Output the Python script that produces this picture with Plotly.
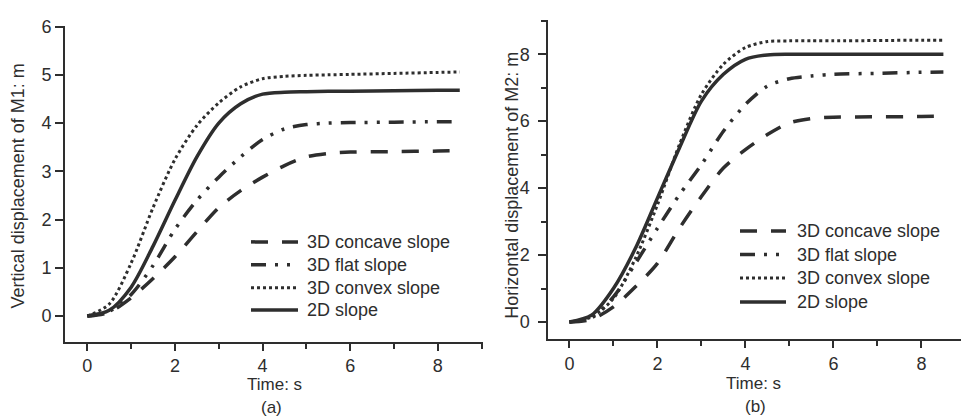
import plotly.graph_objects as go

# ---- data ----
time_s = [0, 0.5, 1, 1.5, 2, 2.5, 3, 3.5, 4, 4.5, 5, 5.5, 6, 7, 8, 8.5]

a_concave = [0, 0.08, 0.38, 0.78, 1.23, 1.75, 2.25, 2.6, 2.88, 3.12, 3.3, 3.37, 3.4, 3.41, 3.42, 3.43]
a_flat    = [0, 0.1, 0.45, 1.05, 1.8, 2.4, 2.88, 3.3, 3.66, 3.88, 3.97, 4.0, 4.01, 4.02, 4.03, 4.03]
a_convex  = [0, 0.25, 1.1, 2.25, 3.25, 3.95, 4.42, 4.75, 4.92, 4.97, 4.99, 5.0, 5.01, 5.03, 5.05, 5.06]
a_2d      = [0, 0.12, 0.6, 1.45, 2.4, 3.3, 4.0, 4.4, 4.6, 4.64, 4.65, 4.66, 4.66, 4.67, 4.68, 4.68]

b_concave = [0, 0.08, 0.45, 1.05, 1.75, 2.8, 3.75, 4.6, 5.15, 5.6, 5.95, 6.08, 6.12, 6.13, 6.14, 6.15]
b_flat    = [0, 0.12, 0.75, 1.75, 2.8, 3.8, 4.7, 5.7, 6.5, 7.05, 7.27, 7.35, 7.4, 7.43, 7.46, 7.47]
b_convex  = [0, 0.15, 0.7, 1.9, 3.5, 5.3, 6.8, 7.7, 8.2, 8.38, 8.4, 8.4, 8.4, 8.41, 8.42, 8.42]
b_2d      = [0, 0.2, 1.0, 2.2, 3.7, 5.2, 6.6, 7.4, 7.85, 7.98, 8.0, 8.0, 8.0, 8.0, 8.0, 8.0]

series_names = ["3D concave slope", "3D flat slope", "3D convex slope", "2D slope"]
series_a = [a_concave, a_flat, a_convex, a_2d]
series_b = [b_concave, b_flat, b_convex, b_2d]

x_title = "Time: s"
ya_title = "Vertical displacement of M1: m"
yb_title = "Horizontal displacement of M2: m"
panel_labels = ["(a)", "(b)"]

# ---- styling ----
INK = "#2e2e2e"
FONT = "Liberation Sans, Arial, sans-serif"
styles = [
    dict(dash="17px,14px", width=3.5),
    dict(dash="15px,9px,3px,9px,3px,9px", width=3.5),
    dict(dash="3px,3px", width=3),
    dict(dash="solid", width=3.5),
]

W, H = 961, 418
def px(x):
    return x / W
def py(y):
    return 1 - y / H

fig = go.Figure()
for name, ys, st in zip(series_names, series_a, styles):
    fig.add_trace(go.Scatter(x=time_s, y=ys, mode="lines", name=name, showlegend=False,
                             line=dict(color=INK, shape="spline", smoothing=0.8, **st),
                             xaxis="x", yaxis="y"))
for name, ys, st in zip(series_names, series_b, styles):
    fig.add_trace(go.Scatter(x=time_s, y=ys, mode="lines", name=name, showlegend=False,
                             line=dict(color=INK, shape="spline", smoothing=0.8, **st),
                             xaxis="x2", yaxis="y2"))

# ---- legends drawn as line samples + labels (one per panel) ----
shapes = []
annotations = []
legend_specs = [
    dict(x0=251, x1=298, tx=305, rows=[238, 261.5, 285, 307.5]),
    dict(x0=740, x1=786, tx=795, rows=[227, 251, 275, 299.5]),
]
for spec in legend_specs:
    for name, st, yrow in zip(series_names, styles, spec["rows"]):
        shapes.append(dict(type="line", xref="paper", yref="paper",
                           x0=px(spec["x0"]), x1=px(spec["x1"]), y0=py(yrow), y1=py(yrow),
                           line=dict(color=INK, width=st["width"], dash=st["dash"])))
        annotations.append(dict(text=name, x=px(spec["tx"]), y=py(yrow), xref="paper", yref="paper",
                                showarrow=False, xanchor="left", yanchor="middle",
                                font=dict(family=FONT, size=18, color=INK)))

annotations += [
    dict(text=x_title, x=px(274), y=py(384), xref="paper", yref="paper",
         showarrow=False, xanchor="center", yanchor="middle", font=dict(size=17)),
    dict(text=panel_labels[0], x=px(271), y=py(407), xref="paper", yref="paper",
         showarrow=False, xanchor="center", yanchor="middle", font=dict(size=17)),
    dict(text=ya_title, x=px(18.3), y=py(181), xref="paper", yref="paper",
         showarrow=False, textangle=-90, xanchor="center", yanchor="middle"),
    dict(text=x_title, x=px(753), y=py(383), xref="paper", yref="paper",
         showarrow=False, xanchor="center", yanchor="middle", font=dict(size=17)),
    dict(text=panel_labels[1], x=px(755), y=py(406), xref="paper", yref="paper",
         showarrow=False, xanchor="center", yanchor="middle", font=dict(size=17)),
    dict(text=yb_title, x=px(511.7), y=py(180), xref="paper", yref="paper",
         showarrow=False, textangle=-90, xanchor="center", yanchor="middle"),
]

axis_common = dict(showline=True, linecolor=INK, linewidth=2, ticks="outside",
                   tickcolor=INK, tickwidth=1.5, showgrid=False, zeroline=False,
                   tickfont=dict(family=FONT, size=18, color=INK), mirror=False)
minor_ticks = dict(dtick=1, tick0=0, ticklen=5, ticks="outside", tickcolor=INK, tickwidth=1.5)

fig.update_layout(
    width=W, height=H, margin=dict(l=0, r=0, t=0, b=0),
    paper_bgcolor="white", plot_bgcolor="white",
    font=dict(family=FONT, size=18, color=INK),
    showlegend=False,
    xaxis=dict(domain=[px(65), px(483)], range=[-0.51, 9.03], dtick=2, tick0=0, ticklen=7,
               minor=minor_ticks, anchor="y", **axis_common),
    yaxis=dict(domain=[py(340), py(17)], range=[-0.53, 6.02], dtick=1, tick0=0, ticklen=8,
               anchor="x", **axis_common),
    xaxis2=dict(domain=[px(548.3), 1.0], range=[-0.48, 8.9], dtick=2, tick0=0, ticklen=7,
                minor=minor_ticks, anchor="y2", **axis_common),
    yaxis2=dict(domain=[py(337.3), py(11.7)], range=[-0.51, 9.01], dtick=2, tick0=0, ticklen=8,
                ticklabelstandoff=5, minor=minor_ticks, anchor="x2", **axis_common),
    shapes=shapes,
    annotations=annotations,
)

fig.write_html("out.html")
